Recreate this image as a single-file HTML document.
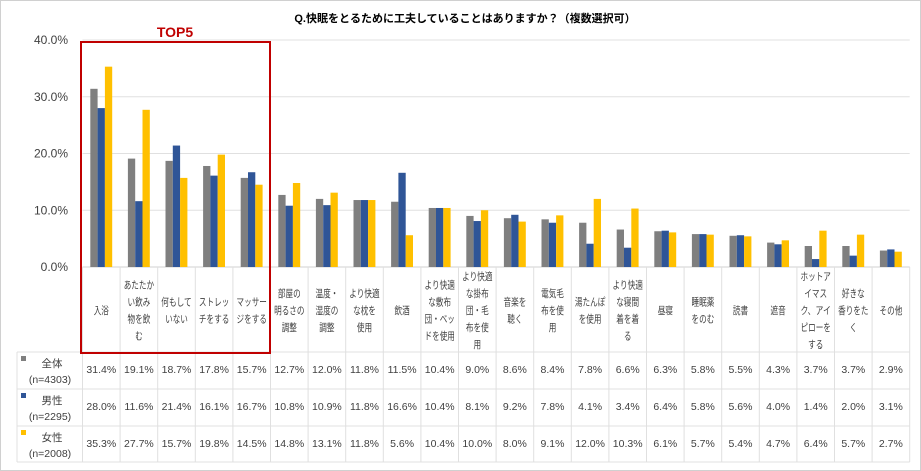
<!DOCTYPE html>
<html><head><meta charset="utf-8"><style>
body{margin:0;background:#fff}
svg{display:block;font-family:"Liberation Sans","Noto Sans CJK JP",sans-serif}
</style></head><body>
<svg width="921" height="471" viewBox="0 0 921 471" xmlns="http://www.w3.org/2000/svg">
<rect x="0.5" y="0.5" width="920" height="470" fill="#fff" stroke="#d0d0d0"/>
<text x="465" y="22" font-size="11" font-weight="bold" text-anchor="middle" fill="#000">Q.快眠をとるために工夫していることはありますか？（複数選択可）</text>
<g id="grid" stroke="#e0e0e0" stroke-width="1"></g>
<g id="ticks" font-size="12" fill="#404040" text-anchor="end"></g>
<g id="bars"></g>
<g id="table" font-size="10.5" fill="#404040" text-anchor="middle"></g>
<rect x="81" y="42" width="189" height="311" fill="none" stroke="#c00000" stroke-width="2"/>
<text x="175" y="37" font-size="14" font-weight="bold" fill="#c00000" text-anchor="middle">TOP5</text>
<script>
const cats=[["入浴"],["あたたか","い飲み","物を飲","む"],["何もして","いない"],["ストレッ","チをする"],["マッサー","ジをする"],["部屋の","明るさの","調整"],["温度・","湿度の","調整"],["より快適","な枕を","使用"],["飲酒"],["より快適","な敷布","団・ベッ","ドを使用"],["より快適","な掛布","団・毛","布を使","用"],["音楽を","聴く"],["電気毛","布を使","用"],["湯たんぽ","を使用"],["より快適","な寝間","着を着","る"],["昼寝"],["睡眠薬","をのむ"],["読書"],["遮音"],["ホットア","イマス","ク、アイ","ピローを","する"],["好きな","香りをた","く"],["その他"]];
const d=[[31.4,19.1,18.7,17.8,15.7,12.7,12.0,11.8,11.5,10.4,9.0,8.6,8.4,7.8,6.6,6.3,5.8,5.5,4.3,3.7,3.7,2.9],
[28.0,11.6,21.4,16.1,16.7,10.8,10.9,11.8,16.6,10.4,8.1,9.2,7.8,4.1,3.4,6.4,5.8,5.6,4.0,1.4,2.0,3.1],
[35.3,27.7,15.7,19.8,14.5,14.8,13.1,11.8,5.6,10.4,10.0,8.0,9.1,12.0,10.3,6.1,5.7,5.4,4.7,6.4,5.7,2.7]];
const cols=["#7f7f7f","#2f5597","#ffc000"];
const names=[["全体","(n=4303)"],["男性","(n=2295)"],["女性","(n=2008)"]];
const x0=82.5,w=37.6,y0=267,k=227/40;
const ns="http://www.w3.org/2000/svg";
function el(p,t,a,txt){const e=document.createElementNS(ns,t);for(const q in a)e.setAttribute(q,a[q]);if(txt!=null)e.textContent=txt;document.getElementById(p).appendChild(e);return e;}
for(let i=0;i<=4;i++){const y=y0-i*10*k;el("grid","line",{x1:x0,x2:x0+22*w,y1:y,y2:y});el("ticks","text",{x:68,y:y+4},(i*10).toFixed(1)+"%");}
for(let c=0;c<22;c++){const cx=x0+c*w+w/2;for(let s=0;s<3;s++){const h=d[s][c]*k;el("bars","rect",{x:cx-11+s*7.3,y:y0-h,width:7.3,height:h,fill:cols[s]});}
 const L=cats[c],lh=17,sy=310-(L.length-1)*lh/2+4;L.forEach((t,j)=>el("table","text",{x:cx,y:sy+j*lh,"font-size":"10.5",textLength:(t.length*7.6).toFixed(1),lengthAdjust:"spacingAndGlyphs"},t));
 for(let s=0;s<3;s++)el("table","text",{x:cx,y:373+s*37},d[s][c].toFixed(1)+"%");}
const rows=[352,389,426,462];
el("grid","line",{x1:x0,x2:x0+22*w,y1:y0,y2:y0,stroke:"#d0d0d0"});
for(const y of rows)el("grid","line",{x1:17,x2:x0+22*w,y1:y,y2:y});
el("grid","line",{x1:17,x2:17,y1:352,y2:462});
for(let c=0;c<=22;c++)el("grid","line",{x1:x0+c*w,x2:x0+c*w,y1:y0,y2:462});
for(let s=0;s<3;s++){el("table","rect",{x:21,y:356+s*37,width:5,height:5,fill:cols[s]});el("table","text",{x:52,y:367+s*37},names[s][0]);el("table","text",{x:50,y:383+s*37},names[s][1]);}
</script>
</svg>
</body></html>
